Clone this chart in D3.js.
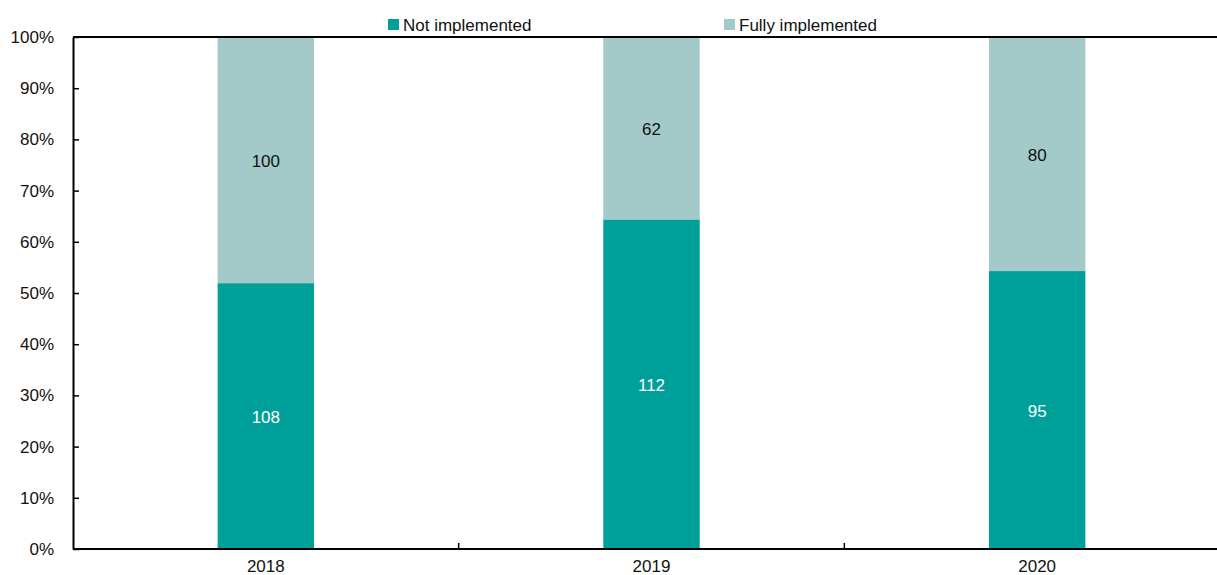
<!DOCTYPE html>
<html>
<head>
<meta charset="utf-8">
<script src="https://cdn.jsdelivr.net/npm/d3@7/dist/d3.min.js"></script>
<style>
  html, body { margin: 0; padding: 0; background: #fff; }
  svg { display: block; font-family: "Liberation Sans", Arial, sans-serif; }
</style>
</head>
<body>
<svg id="chart" width="1217" height="575"></svg>
<script>
// Recommendation status per year (counts)
const years = ["2018", "2019", "2020"];
const notImplemented = [108, 112, 95];
const fullyImplemented = [100, 62, 80];
const seriesNames = ["Not implemented", "Fully implemented"];
const seriesColors = ["#00A09A", "#A3C9C9"];
const labelColors = ["#ffffff", "#111111"];
const yTicks = [0, 0.1, 0.2, 0.3, 0.4, 0.5, 0.6, 0.7, 0.8, 0.9, 1];

const svg = d3.select("#chart");
const margin = { left: 73, top: 37, bottom: 26 };
const width = 1217, height = 575;
const plotRight = 1230; // plot area runs slightly past the window edge
const plotBottom = height - margin.bottom;

const rows = years.map((y, i) => {
  const total = notImplemented[i] + fullyImplemented[i];
  return { year: y, values: [notImplemented[i], fullyImplemented[i]], total };
});

const x = d3.scaleBand().domain(years).range([margin.left, plotRight])
  .paddingInner(0.75).paddingOuter(0.375);
const xBand = d3.scaleBand().domain(years).range([margin.left, plotRight]);
const y = d3.scaleLinear().domain([0, 1]).range([plotBottom, margin.top]);

// Stacked shares
const stack = d3.stack().keys([0, 1]).value((d, k) => d.values[k] / d.total);
const layers = stack(rows);

const g = svg.append("g");
layers.forEach((layer, k) => {
  g.selectAll(null).data(layer).enter().append("rect")
    .attr("x", d => x(d.data.year))
    .attr("width", x.bandwidth())
    .attr("y", d => y(d[1]))
    .attr("height", d => y(d[0]) - y(d[1]))
    .attr("fill", seriesColors[k]);
  g.selectAll(null).data(layer).enter().append("text")
    .attr("x", d => x(d.data.year) + x.bandwidth() / 2)
    .attr("y", d => y((d[0] + d[1]) / 2) + 1)
    .attr("dy", "0.35em")
    .attr("text-anchor", "middle")
    .attr("font-size", 17)
    .attr("fill", labelColors[k])
    .text(d => d.data.values[k]);
});

// Top frame line
svg.append("line")
  .attr("x1", margin.left).attr("x2", plotRight)
  .attr("y1", margin.top).attr("y2", margin.top)
  .attr("stroke", "#000").attr("stroke-width", 2);

// Y axis with inward ticks
const yAxis = d3.axisLeft(y).tickValues(yTicks)
  .tickFormat(d3.format(".0%")).tickSizeInner(-6).tickSizeOuter(0).tickPadding(19);
const ya = svg.append("g").attr("transform", `translate(${margin.left},0)`).call(yAxis);
ya.select(".domain").attr("stroke", "#000").attr("stroke-width", 2);
ya.selectAll(".tick line").attr("stroke", "#000").attr("stroke-width", 1.5);
ya.selectAll(".tick text").attr("font-size", 17).attr("fill", "#111")
  .attr("font-family", "'Liberation Sans', Arial, sans-serif");

// X axis with category-boundary ticks pointing up
const xa = svg.append("g").attr("transform", `translate(0,${plotBottom})`);
xa.append("line").attr("x1", margin.left).attr("x2", plotRight)
  .attr("stroke", "#000").attr("stroke-width", 2);
xa.selectAll(null).data(years.slice(1)).enter().append("line")
  .attr("x1", d => xBand(d)).attr("x2", d => xBand(d))
  .attr("y1", 0).attr("y2", -6)
  .attr("stroke", "#000").attr("stroke-width", 1.5);
xa.selectAll(null).data(years).enter().append("text")
  .attr("x", d => xBand(d) + xBand.bandwidth() / 2)
  .attr("y", 17).attr("dy", "0.35em")
  .attr("text-anchor", "middle").attr("font-size", 17).attr("fill", "#111")
  .text(d => d);

// Legend
const legendX = [388, 724];
const legend = svg.append("g");
seriesNames.forEach((name, k) => {
  legend.append("rect").attr("x", legendX[k]).attr("y", 19)
    .attr("width", 11).attr("height", 11).attr("fill", seriesColors[k]);
  legend.append("text").attr("x", legendX[k] + 15).attr("y", 25).attr("dy", "0.35em")
    .attr("font-size", 17).attr("fill", "#111").text(name);
});
</script>
</body>
</html>
